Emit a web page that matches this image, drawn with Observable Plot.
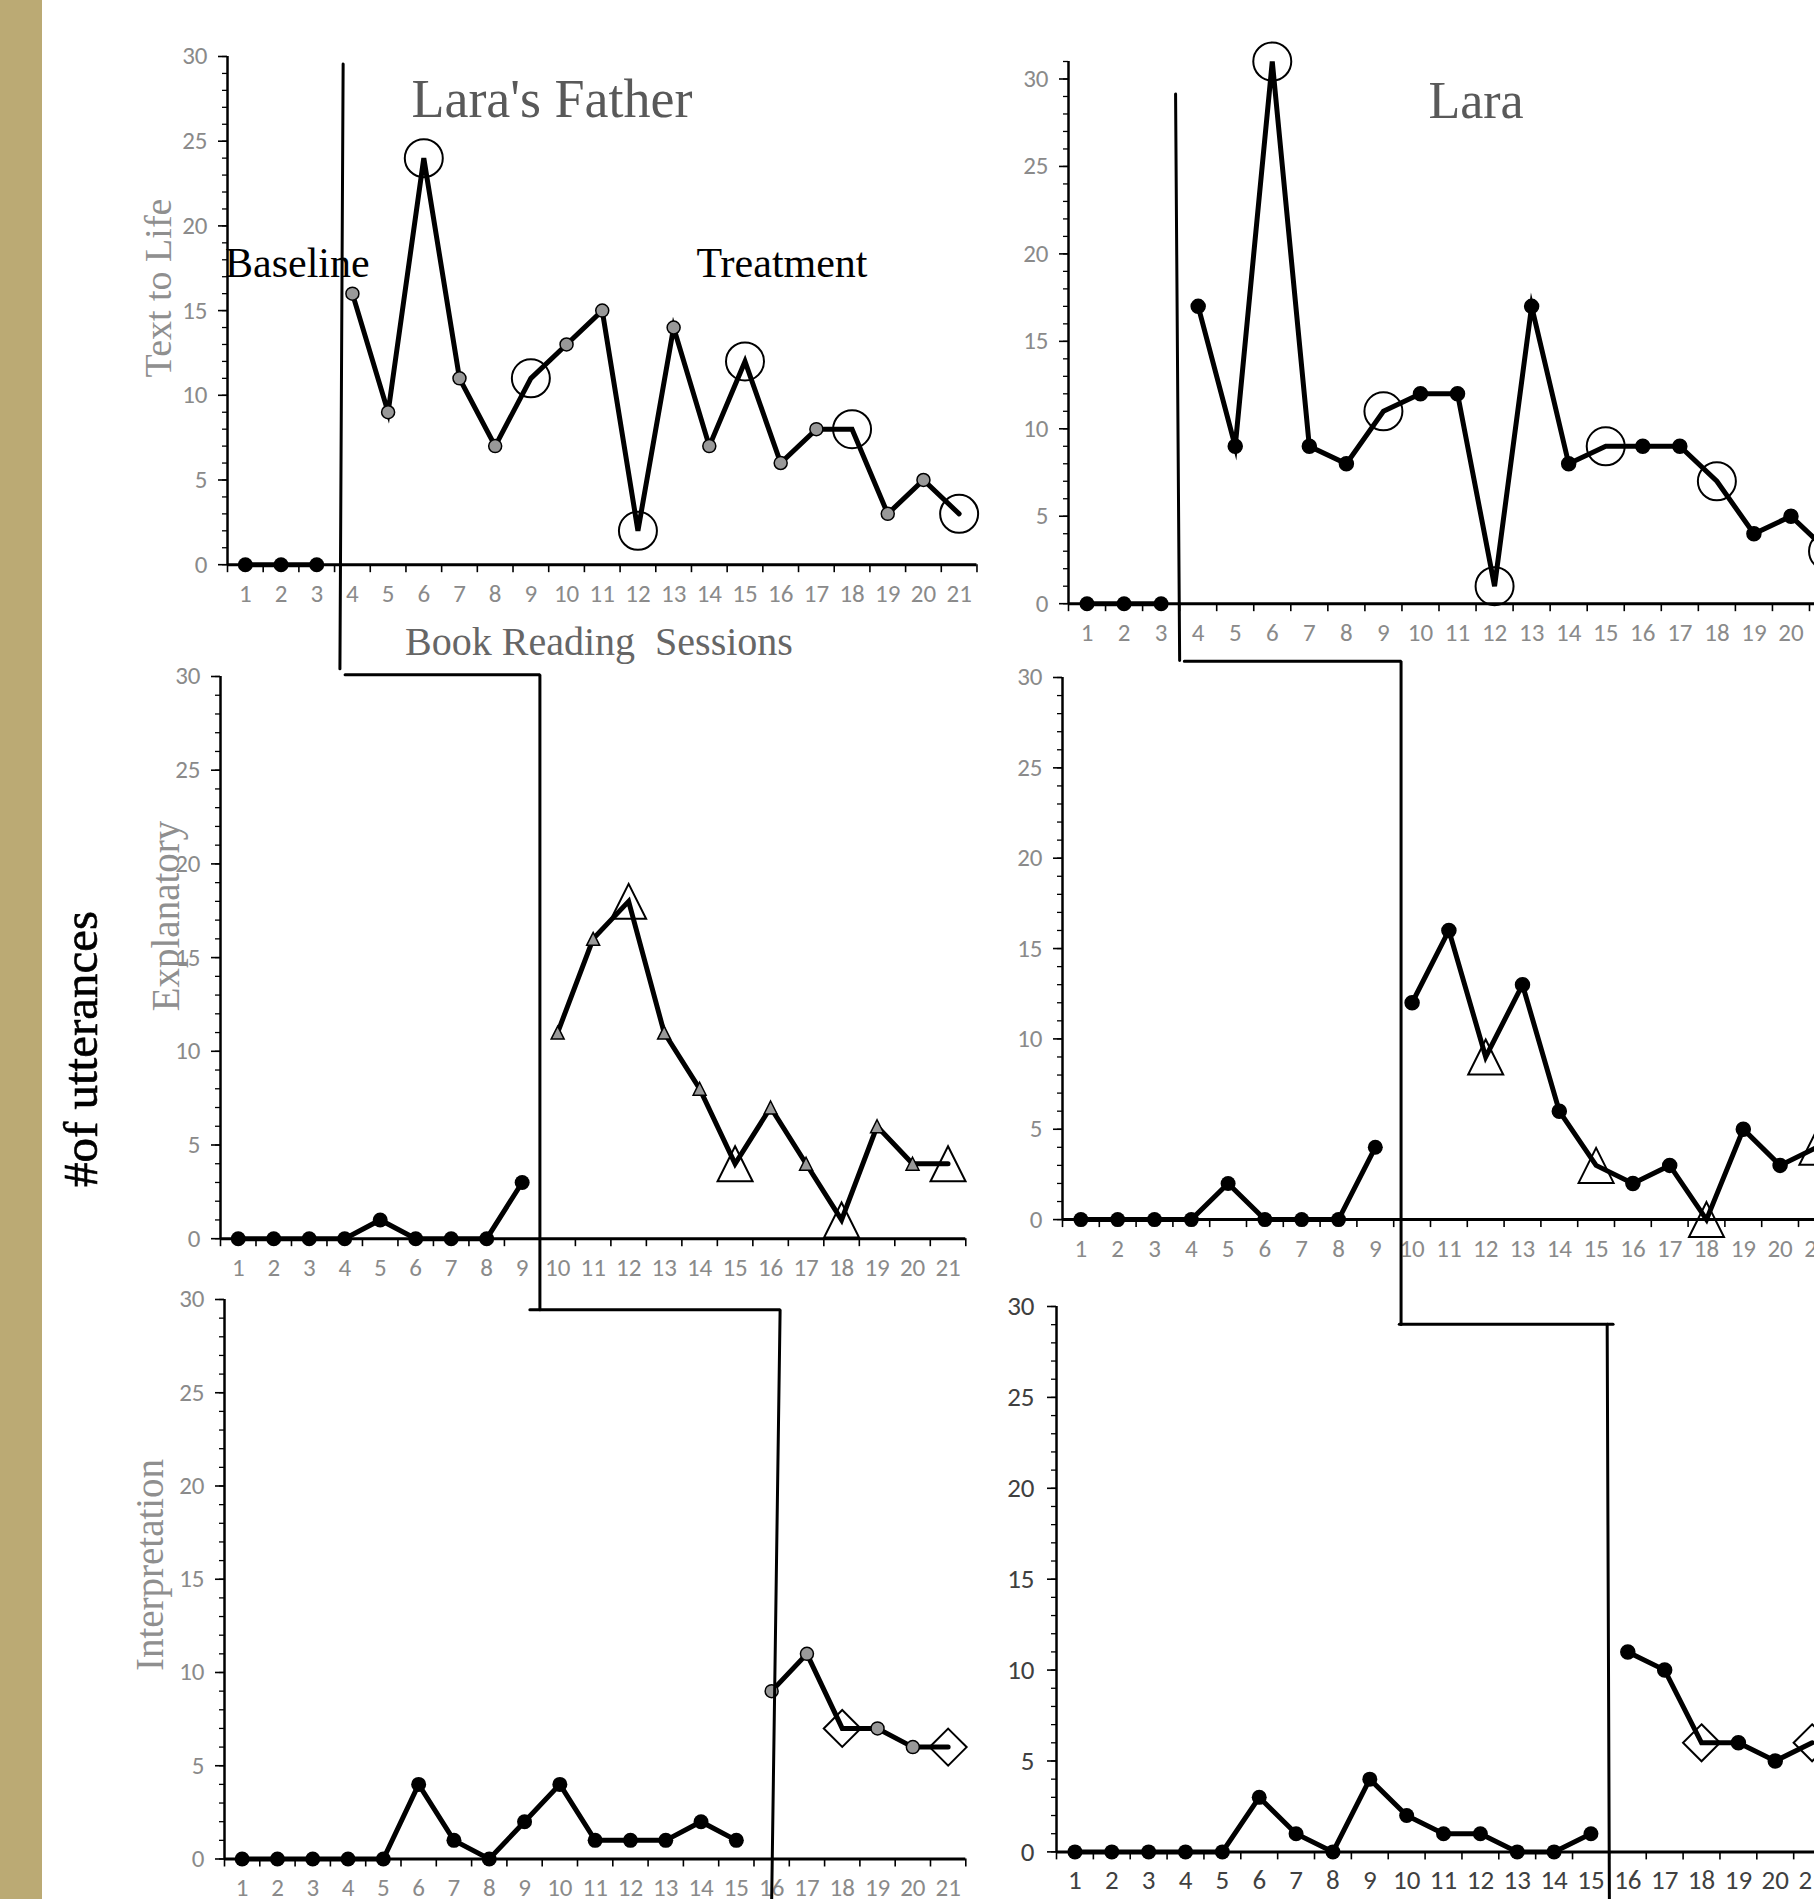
<!DOCTYPE html>
<html><head><meta charset="utf-8">
<script src="https://cdn.jsdelivr.net/npm/d3@7"></script>
<script src="https://cdn.jsdelivr.net/npm/@observablehq/plot@0.6"></script>
<style>
html,body{margin:0;padding:0;background:#fff;}
#page{position:relative;width:1814px;height:1899px;overflow:hidden;background:#fff;}
#strip{position:absolute;left:0;top:0;width:42px;height:1899px;background:#bbaa74;}
#page svg{position:absolute;}
</style></head><body>
<div id="page"><div id="strip"></div></div>
<script>
// ---------- data ----------
const sessions = [1,2,3,4,5,6,7,8,9,10,11,12,13,14,15,16,17,18,19,20,21];
const yTickLabels = [0,5,10,15,20,25,30];

const fatherTextToLife     = [0,0,0,16,9,24,11,7,11,13,15,2,14,7,12,6,8,8,3,5,3];
const laraTextToLife       = [0,0,0,17,9,31,9,8,11,12,12,1,17,8,9,9,9,7,4,5,3];
const fatherExplanatory    = [0,0,0,0,1,0,0,0,3,11,16,18,11,8,4,7,4,1,6,4,4];
const laraExplanatory      = [0,0,0,0,2,0,0,0,4,12,16,9,13,6,3,2,3,0,5,3,4];
const fatherInterpretation = [0,0,0,0,0,4,1,0,2,4,1,1,1,2,1,9,11,7,7,6,6];
const laraInterpretation   = [0,0,0,0,0,3,1,0,4,2,1,1,0,0,1,11,10,6,6,5,6];

const baselineTextToLife = 3, baselineExplanatory = 9, baselineInterpretation = 15;
const probesTextToLife = [6,9,12,15,18,21];
const probesExplanatory = [12,15,18,21];
const probesInterpretation = [18,21];

// phase-change lines (session, count, segment)
const phaseFatherText   = [{s:3.74,c:29.56,g:1},{s:3.65,c:-6.15,g:1}];
const phaseLaraText     = [{s:3.39,c:29.14,g:1},{s:3.5,c:-3.25,g:1}];
const phaseFatherExpl   = [{s:4.01,c:30.1,g:1},{s:9.5,c:30.1,g:1},{s:9.5,c:-3.79,g:1}];
const phaseLaraExpl     = [{s:3.81,c:30.9,g:1},{s:9.7,c:30.9,g:1},{s:9.7,c:-5.8,g:1}];
const phaseFatherInterp = [{s:9.15,c:29.45,g:1},{s:16.24,c:29.45,g:1},{s:16.0,c:-2.3,g:1}];
const phaseLaraInterp   = [{s:9.8,c:29.03,g:1},{s:15.6,c:29.03,g:1},{s:15.44,c:29.03,g:2},{s:15.5,c:-2.7,g:2}];

// ---------- symbols (Excel-like) ----------
const triSym = {draw(ctx,size){const r=Math.sqrt(size/Math.PI);ctx.moveTo(0,-r);ctx.lineTo(r,r);ctx.lineTo(-r,r);ctx.closePath();}};
const diaSym = {draw(ctx,size){const r=Math.sqrt(size/Math.PI);ctx.moveTo(0,-r);ctx.lineTo(r,0);ctx.lineTo(0,r);ctx.lineTo(-r,0);ctx.closePath();}};

const tickFont = "Carlito, 'Open Sans', sans-serif";
const serif = "'Liberation Serif', 'Times New Roman', serif";
const page = document.getElementById("page");

// ---------- overlay texts ----------
const ov = d3.select(page).append("svg").attr("width",1814).attr("height",1899).style("left","0px").style("top","0px");
function t(txt,x,y,size,fill,anchor,rot,sw){
  const e = ov.append("text").text(txt).attr("font-family",serif).attr("font-size",size).attr("fill",fill)
    .attr("text-anchor",anchor).attr("xml:space","preserve").style("white-space","pre");
  if(sw) e.attr("stroke",fill).attr("stroke-width",sw);
  if(rot) e.attr("transform",`translate(${x},${y}) rotate(-90)`); else e.attr("x",x).attr("y",y);
}
t("Lara's Father",552,117,54,"#595959","middle");
t("Lara",1476,118,52,"#595959","middle");
t("Baseline",225,277,42,"#000","start");
t("Treatment",782,277,42,"#000","middle");
t("Book Reading  Sessions",599,655,40,"#666","middle");
t("Text to Life",171,288,38,"#8f8f8f","middle",true);
t("Explanatory",179,916,39,"#8f8f8f","middle",true);
t("Interpretation",163,1565,39,"#8f8f8f","middle",true);
t("#of utterances",97,1049,49,"#000","middle",true,0.6);

// ---------- panels ----------
const panels = [
  {values:fatherTextToLife, baselineN:baselineTextToLife, probes:probesTextToLife, bigSym:"circle", bigR:19, smallSym:"circle", smallFill:"#999", phase:phaseFatherText,
   x0:227, bandW:35.69, yZero:563.8, yUnit:16.94, yMax:30, labelColor:"#8a8a8a", labelSize:25, gap:20},
  {values:laraTextToLife, baselineN:baselineTextToLife, probes:probesTextToLife, bigSym:"circle", bigR:19, smallSym:"circle", smallFill:"#000", phase:phaseLaraText,
   x0:1068, bandW:37.05, yZero:602.8, yUnit:17.49, yMax:31, labelColor:"#8a8a8a", labelSize:25, gap:20},
  {values:fatherExplanatory, baselineN:baselineExplanatory, probes:probesExplanatory, bigSym:triSym, bigR:17.5, smallSym:triSym, smallFill:"#999", phase:phaseFatherExpl,
   x0:219.5, bandW:35.49, yZero:1238, yUnit:18.74, yMax:30, labelColor:"#8a8a8a", labelSize:25, gap:20},
  {values:laraExplanatory, baselineN:baselineExplanatory, probes:probesExplanatory, bigSym:triSym, bigR:17.5, smallSym:"circle", smallFill:"#000", phase:phaseLaraExpl,
   x0:1062, bandW:36.8, yZero:1218.8, yUnit:18.07, yMax:30, labelColor:"#8a8a8a", labelSize:25, gap:20},
  {values:fatherInterpretation, baselineN:baselineInterpretation, probes:probesInterpretation, bigSym:diaSym, bigR:18.5, smallSym:"circle", smallFill:"#999", phase:phaseFatherInterp,
   x0:223.5, bandW:35.3, yZero:1858.2, yUnit:18.65, yMax:30, labelColor:"#8a8a8a", labelSize:25, gap:20},
  {values:laraInterpretation, baselineN:baselineInterpretation, probes:probesInterpretation, bigSym:diaSym, bigR:18.5, smallSym:"circle", smallFill:"#000", phase:phaseLaraInterp,
   x0:1055.5, bandW:36.86, yZero:1850.9, yUnit:18.18, yMax:30, labelColor:"#404040", labelSize:27, gap:22}
];

for (const p of panels) {
  const mL=100, mR=40, mT=50, mB=80;
  const W = 21*p.bandW, H = p.yMax*p.yUnit;
  const rows = sessions.map((s,i)=>({session:s, count:p.values[i], phase: i<p.baselineN ? "baseline" : "treatment"}));
  const base = rows.filter(d=>d.phase==="baseline");
  const treat = rows.filter(d=>d.phase==="treatment");
  const probe = treat.filter(d=>p.probes.includes(d.session));
  const regular = treat.filter(d=>!p.probes.includes(d.session));
  const smallR = p.smallFill === "#000" ? 7 : 6.5;
  const plot = Plot.plot({
    width: mL+W+mR, height: mT+H+mB,
    marginLeft:mL, marginRight:mR, marginTop:mT, marginBottom:mB,
    x:{type:"linear", domain:[0.5,21.5], axis:null},
    y:{type:"linear", domain:[0,p.yMax], axis:null},
    style:{background:"transparent", overflow:"visible", fontFamily:tickFont},
    marks:[
      Plot.axisY({anchor:"left", ticks:d3.range(0,p.yMax+1), tickSize:5, tickFormat:()=>"", stroke:"#000", strokeWidth:1.3}),
      Plot.axisY({anchor:"left", ticks:yTickLabels, tickSize:9, tickFormat:()=>"", stroke:"#000", strokeWidth:1.6}),
      Plot.axisX({anchor:"bottom", ticks:d3.range(0.5,22,1), tickSize:8, tickFormat:()=>"", stroke:"#000", strokeWidth:1.6}),
      Plot.ruleX([0.5], {y1:0, y2:p.yMax, stroke:"#000", strokeWidth:2.5}),
      Plot.ruleY([0], {x1:0.5, x2:21.5, stroke:"#000", strokeWidth:3}),
      Plot.text(yTickLabels, {y:d=>d, text:d=>String(d), frameAnchor:"left", textAnchor:"end", dx:-p.gap, fill:p.labelColor, fontSize:p.labelSize}),
      Plot.text(sessions, {x:d=>d, text:d=>String(d), frameAnchor:"bottom", dy:37, fill:p.labelColor, fontSize:p.labelSize}),
      Plot.line(rows, {x:"session", y:"count", z:"phase", stroke:"#000", strokeWidth:5, strokeLinejoin:"miter", strokeMiterlimit:6}),
      Plot.dot(base, {x:"session", y:"count", r:7.5, fill:"#000"}),
      Plot.dot(regular, {x:"session", y:"count", symbol:p.smallSym, r:smallR, fill:p.smallFill, stroke:"#000", strokeWidth:1.5}),
      Plot.dot(probe, {x:"session", y:"count", symbol:p.bigSym, r:p.bigR, fill:"none", stroke:"#000", strokeWidth:2}),
      Plot.line(p.phase, {x:"s", y:"c", z:"g", stroke:"#000", strokeWidth:3, strokeLinejoin:"miter"})
    ]
  });
  plot.style.left = (p.x0 - mL) + "px";
  plot.style.top = (p.yZero - H - mT) + "px";
  plot.style.maxWidth = "none";
  page.appendChild(plot);
}
</script></body></html>
